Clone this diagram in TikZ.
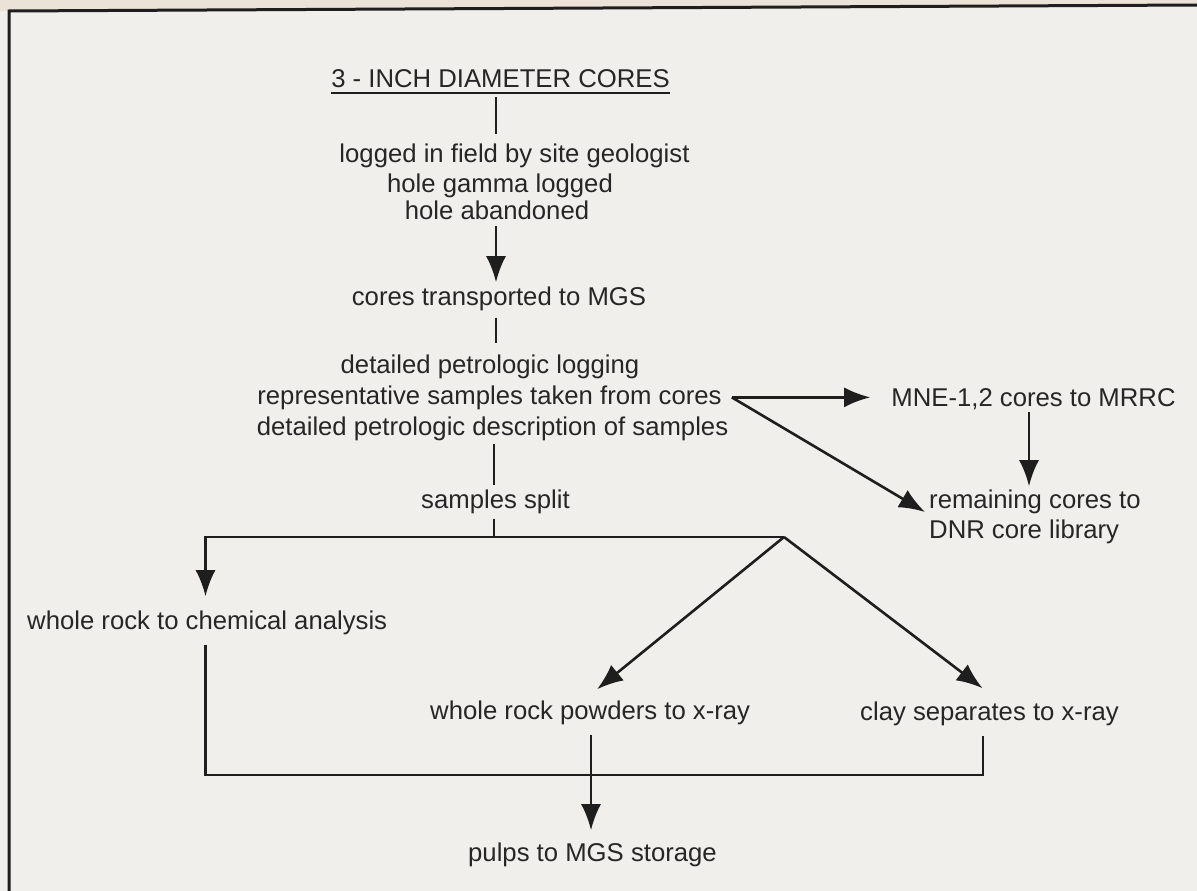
\documentclass[tikz,border=0pt]{standalone}
\usepackage{fontspec}
\setmainfont{Liberation Sans}
\usetikzlibrary{arrows.meta}
\definecolor{paper}{HTML}{F1EFEB}
\definecolor{edge}{HTML}{EBE2D8}
\definecolor{ink}{HTML}{1E1E1E}
\definecolor{textink}{HTML}{262626}
\begin{document}
\begin{tikzpicture}[x=1pt,y=-1pt,
  lbl/.style={font=\fontsize{25.7}{30}\selectfont, text=textink, inner sep=0pt, anchor=base},
  lblw/.style={lbl, anchor=base west},
  ln/.style={draw=ink, line width=2.6pt},
  arr/.style={ln, -{Latex[length=26pt,width=20pt]}}]
\fill[paper] (0,0) rectangle (1197,891);
\fill[edge] (0,0) -- (1197,0) -- (1197,5) -- (9,11) -- (0,11) -- cycle;
\useasboundingbox (0,0) rectangle (1197,891);
% frame
\draw[draw=ink, line width=3pt] (9,891) -- (9,11) -- (1197,5);

% column coordinates
\coordinate (colA) at (496,0);
\coordinate (colB) at (494,0);
\coordinate (apex) at (784,537);
\coordinate (lft) at (205.5,537);
\coordinate (bot) at (0,775);
\coordinate (clayx) at (983,0);
\coordinate (pcol) at (591,0);
\coordinate (mcol) at (1029,0);

% texts
\node[lbl] (title) at (500.5,88) {3 - INCH DIAMETER CORES};
\draw[draw=ink, line width=1.8pt] ([yshift=-5pt]title.base west) -- ([yshift=-5pt]title.base east);
\node[lbl] (log1) at (514.5,162) {logged in field by site geologist};
\node[lbl] (log2) at (500,192) {hole gamma logged};
\node[lbl] (log3) at (497,219) {hole abandoned};
\node[lbl] (cores) at (499,305) {cores transported to MGS};
\node[lbl] (pet1) at (490,373) {detailed petrologic logging};
\node[lbl] (pet2) at (489.5,404) {representative samples taken from cores};
\node[lbl] (pet3) at (492.5,435) {detailed petrologic description of samples};
\node[lbl] (split) at (495.5,508) {samples split};
\node[lbl] (mne) at (1033.5,406) {MNE-1,2 cores to MRRC};
\node[lblw] (rem1) at (929,508) {remaining cores to};
\node[lblw] (rem2) at (929,538) {DNR core library};
\node[lblw] (chem) at (27,629) {whole rock to chemical analysis};
\node[lblw] (powd) at (430,719) {whole rock powders to x-ray};
\node[lblw] (clay) at (860,720) {clay separates to x-ray};
\node[lblw] (pulps) at (468,861) {pulps to MGS storage};

% connectors
\draw[ln] ([yshift=-9pt]title.base -| colA) -- ([yshift=9pt]log1.north -| colA);
\draw[arr] ([yshift=-7pt]log3.south -| colA) -- ([yshift=4pt]cores.north -| colA);
\draw[ln] ([yshift=-7pt]cores.south -| colA) -- ([yshift=11pt]pet1.north -| colA);
\draw[ln] ([yshift=-3pt]pet3.south -| colB) -- ([yshift=4pt]split.north -| colB);
\draw[ln] ([yshift=-5pt]split.south -| colB) -- (colB |- apex);
\draw[arr] (apex) -- (lft) -- ([yshift=14pt]chem.north -| lft);
\draw[arr] (apex) -- ([xshift=7pt,yshift=11pt]powd.north);
\draw[arr] (apex) -- ([xshift=-7pt,yshift=13pt]clay.north);

\coordinate (v) at ([xshift=10pt]pet2.east);
\coordinate (mnetip) at ([xshift=-21pt]mne.west);
\draw[arr] (v) -- (mnetip |- v);
\draw[arr] (v) -- ([xshift=-4pt,yshift=-4pt]rem1.base west);
\draw[arr] ([yshift=-3pt]mne.south -| mcol) -- ([yshift=3pt]rem1.north -| mcol);

\draw[ln] ([yshift=-10pt]chem.south -| lft) -- (lft |- bot) -- (clayx |- bot) -- ([yshift=-10pt]clay.south -| clayx);
\draw[arr] ([yshift=-10pt]powd.south -| pcol) -- ([yshift=12pt]pulps.north -| pcol);
\end{tikzpicture}
\end{document}
